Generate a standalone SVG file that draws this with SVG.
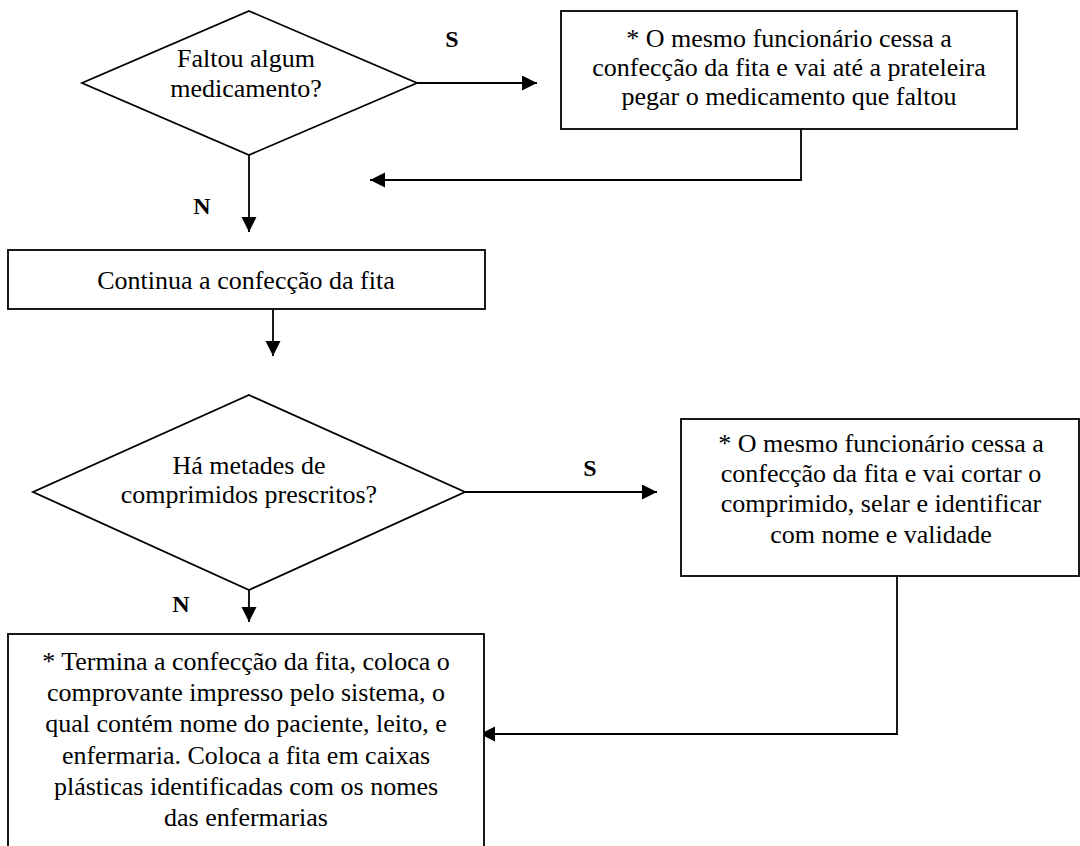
<svg xmlns="http://www.w3.org/2000/svg" width="1080" height="846" viewBox="0 0 1080 846">
<defs>
<marker id="ah" markerWidth="16" markerHeight="16" refX="15" refY="7.5" orient="auto" markerUnits="userSpaceOnUse">
<path d="M0,0 L15,7.5 L0,15 Z" fill="#000"/>
</marker>
<style>
.shape{fill:#fff;stroke:#000;stroke-width:1.8}
.t{font-family:"Liberation Serif","Times New Roman",serif;font-size:26px;fill:#000;text-anchor:middle}
.lbl{font-family:"Liberation Serif","Times New Roman",serif;font-size:24px;font-weight:bold;fill:#000;text-anchor:middle}
.c{fill:none;stroke:#000;stroke-width:1.8}
.ca{fill:none;stroke:#000;stroke-width:1.8;marker-end:url(#ah)}
</style>
</defs>
<rect width="1080" height="846" fill="#fff"/>
<g id="connectors">
<line class="ca" x1="417" y1="83" x2="537" y2="83"/>
<polyline class="ca" points="801,129 801,180 370,180"/>
<line class="ca" x1="249" y1="155" x2="249" y2="232"/>
<line class="ca" x1="273" y1="309" x2="273" y2="356"/>
<line class="ca" x1="465" y1="492" x2="657" y2="492"/>
<line class="ca" x1="249" y1="590" x2="249" y2="622"/>
<polyline class="ca" points="897,576 897,734 480,734"/>
<text class="lbl" x="452" y="47">S</text>
<text class="lbl" x="202" y="214">N</text>
<text class="lbl" x="590" y="476">S</text>
<text class="lbl" x="181" y="612">N</text>
</g>
<g id="d1">
<polygon class="shape" points="249,11 417,83 249,155 82,83"/>
<text class="t" x="246" y="67">Faltou algum</text>
<text class="t" x="246" y="97">medicamento?</text>
</g>
<g id="b1">
<rect class="shape" x="561" y="11" width="456" height="118"/>
<text class="t" x="789" y="47">* O mesmo funcionário cessa a</text>
<text class="t" x="789" y="76">confecção da fita e vai até a prateleira</text>
<text class="t" x="789" y="105">pegar o medicamento que faltou</text>
</g>
<g id="b2">
<rect class="shape" x="8" y="250" width="477" height="59"/>
<text class="t" x="246" y="289">Continua a confecção da fita</text>
</g>
<g id="d2">
<polygon class="shape" points="249,395 465,492 249,590 33,492"/>
<text class="t" x="249" y="474">Há metades de</text>
<text class="t" x="249" y="503">comprimidos prescritos?</text>
</g>
<g id="b3">
<rect class="shape" x="681" y="419" width="398" height="157"/>
<text class="t" x="881" y="452">* O mesmo funcionário cessa a</text>
<text class="t" x="881" y="482">confecção da fita e vai cortar o</text>
<text class="t" x="881" y="512">comprimido, selar e identificar</text>
<text class="t" x="881" y="543">com nome e validade</text>
</g>
<g id="b4">
<rect class="shape" x="8" y="634" width="476" height="220"/>
<text class="t" x="246" y="670">* Termina a confecção da fita, coloca o</text>
<text class="t" x="246" y="701">comprovante impresso pelo sistema, o</text>
<text class="t" x="246" y="732">qual contém nome do paciente, leito, e</text>
<text class="t" x="246" y="764">enfermaria. Coloca a fita em caixas</text>
<text class="t" x="246" y="795">plásticas identificadas com os nomes</text>
<text class="t" x="246" y="826">das enfermarias</text>
</g>
</svg>
